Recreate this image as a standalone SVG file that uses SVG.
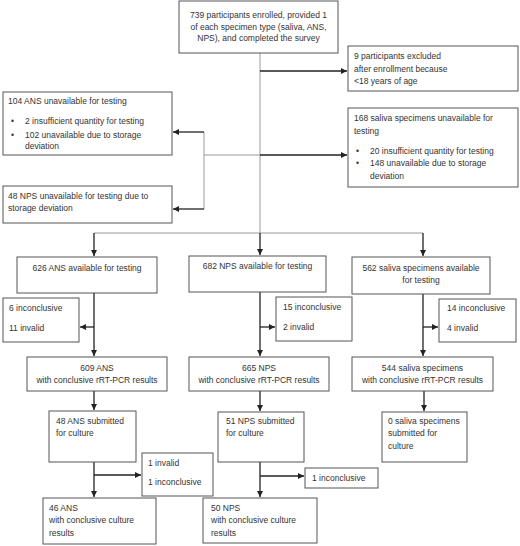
<svg xmlns="http://www.w3.org/2000/svg" width="520" height="546" viewBox="0 0 520 546">
<style>
.box{fill:#fff;stroke:#555;stroke-width:1}
text{font-family:"Liberation Sans",Arial,sans-serif;font-size:8.5px;fill:#333}
.c{text-anchor:middle}
.g{stroke:#9a9a9a;stroke-width:1;fill:none}
.a{stroke:#222;stroke-width:1.3;fill:none;marker-end:url(#ah)}
</style>
<defs>
<marker id="ah" markerUnits="userSpaceOnUse" markerWidth="6" markerHeight="6" refX="6" refY="3" orient="auto">
<path d="M0,0 L6,3 L0,6 z" fill="#222"/>
</marker>
</defs>
<rect width="520" height="546" fill="#fff"/>
<g id="connectors">
<path class="g" d="M260,53 V233 M94,233 H423 M204,155 H260 M204,132 V209"/>
<path class="a" d="M260,71 H347"/>
<path class="a" d="M260,155 H347"/>
<path class="a" d="M204,132 H173"/>
<path class="a" d="M204,209 H173"/>
<path class="a" d="M94,233 V256"/>
<path class="a" d="M260,233 V255"/>
<path class="a" d="M423,233 V256"/>
<path class="a" d="M94,293 V356"/>
<path class="a" d="M94,327 H80"/>
<path class="a" d="M260,292 V356"/>
<path class="a" d="M260,327 H275"/>
<path class="a" d="M423,294 V356"/>
<path class="a" d="M423,327 H438"/>
<path class="a" d="M94,391 V410"/>
<path class="a" d="M260,391 V411"/>
<path class="a" d="M424,391 V411"/>
<path class="a" d="M94,462 V497"/>
<path class="a" d="M94,475 H141"/>
<path class="a" d="M260,462 V497"/>
<path class="a" d="M260,476 H304"/>
</g>
<g id="n-enrolled"><rect class="box" x="179" y="1" width="159" height="52"/>
<text class="c" x="258.5" y="18">739 participants enrolled, provided 1</text>
<text class="c" x="258.5" y="29.5">of each specimen type (saliva, ANS,</text>
<text class="c" x="258.5" y="40.5">NPS), and completed the survey</text></g>
<g id="n-excluded"><rect class="box" x="348" y="46" width="170" height="45"/>
<text x="354" y="59">9 participants excluded</text>
<text x="354" y="72">after enrollment because</text>
<text x="354" y="84">&lt;18 years of age</text></g>
<g id="n-ans-unavail"><rect class="box" x="3" y="92" width="169" height="63"/>
<text x="8" y="104">104 ANS unavailable for testing</text>
<text x="11" y="124">•</text><text x="25" y="124">2 insufficient quantity for testing</text>
<text x="11" y="138">•</text><text x="25" y="138">102 unavailable due to storage</text>
<text x="25" y="149">deviation</text></g>
<g id="n-saliva-unavail"><rect class="box" x="348" y="108" width="170" height="79"/>
<text x="354" y="121">168 saliva specimens unavailable for</text>
<text x="354" y="134">testing</text>
<text x="356" y="154">•</text><text x="370" y="154">20 insufficient quantity for testing</text>
<text x="356" y="166">•</text><text x="370" y="166">148 unavailable due to storage</text>
<text x="370" y="179">deviation</text></g>
<g id="n-nps-unavail"><rect class="box" x="3" y="186" width="169" height="37"/>
<text x="8" y="199">48 NPS unavailable for testing due to</text>
<text x="8" y="211">storage deviation</text></g>
<g id="n-ans-avail"><rect class="box" x="17" y="257" width="140" height="36"/>
<text class="c" x="87" y="271">626 ANS available for testing</text></g>
<g id="n-nps-avail"><rect class="box" x="189" y="256" width="137" height="36"/>
<text class="c" x="257.5" y="269">682 NPS available for testing</text></g>
<g id="n-saliva-avail"><rect class="box" x="352" y="257" width="138" height="37"/>
<text class="c" x="421" y="271">562 saliva specimens available</text>
<text class="c" x="421" y="283">for testing</text></g>
<g id="n-ans-inc"><rect class="box" x="3" y="298" width="76" height="44"/>
<text x="9" y="311">6 inconclusive</text>
<text x="9" y="331">11 invalid</text></g>
<g id="n-nps-inc"><rect class="box" x="276" y="297" width="76" height="44"/>
<text x="283" y="310">15 inconclusive</text>
<text x="283" y="330">2 invalid</text></g>
<g id="n-saliva-inc"><rect class="box" x="439" y="299" width="77" height="43"/>
<text x="447" y="311">14 inconclusive</text>
<text x="447" y="331">4 invalid</text></g>
<g id="n-ans-pcr"><rect class="box" x="27" y="357" width="140" height="34"/>
<text class="c" x="97" y="371">609 ANS</text>
<text class="c" x="97" y="383">with conclusive rRT-PCR results</text></g>
<g id="n-nps-pcr"><rect class="box" x="189" y="357" width="140" height="34"/>
<text class="c" x="259" y="371">665 NPS</text>
<text class="c" x="259" y="383">with conclusive rRT-PCR results</text></g>
<g id="n-saliva-pcr"><rect class="box" x="352" y="357" width="141" height="34"/>
<text class="c" x="422.5" y="371">544 saliva specimens</text>
<text class="c" x="422.5" y="383">with conclusive rRT-PCR results</text></g>
<g id="n-ans-culture"><rect class="box" x="49" y="411" width="87" height="51"/>
<text x="56" y="424">48 ANS submitted</text>
<text x="56" y="436">for culture</text></g>
<g id="n-nps-culture"><rect class="box" x="218" y="412" width="86" height="50"/>
<text x="226" y="424">51 NPS submitted</text>
<text x="226" y="436">for culture</text></g>
<g id="n-saliva-culture"><rect class="box" x="382" y="412" width="85" height="50"/>
<text x="388" y="424">0 saliva specimens</text>
<text x="388" y="436">submitted for</text>
<text x="388" y="449">culture</text></g>
<g id="n-ans-cult-inv"><rect class="box" x="142" y="453" width="71" height="43"/>
<text x="148" y="466">1 invalid</text>
<text x="148" y="485">1 inconclusive</text></g>
<g id="n-nps-cult-inc"><rect class="box" x="305" y="468" width="73" height="20"/>
<text x="312" y="481">1 inconclusive</text></g>
<g id="n-ans-final"><rect class="box" x="43" y="498" width="113" height="46"/>
<text x="49" y="511">46 ANS</text>
<text x="49" y="523">with conclusive culture</text>
<text x="49" y="536">results</text></g>
<g id="n-nps-final"><rect class="box" x="203" y="498" width="114" height="45"/>
<text x="211" y="511">50 NPS</text>
<text x="211" y="523">with conclusive culture</text>
<text x="211" y="536">results</text></g>
</svg>
